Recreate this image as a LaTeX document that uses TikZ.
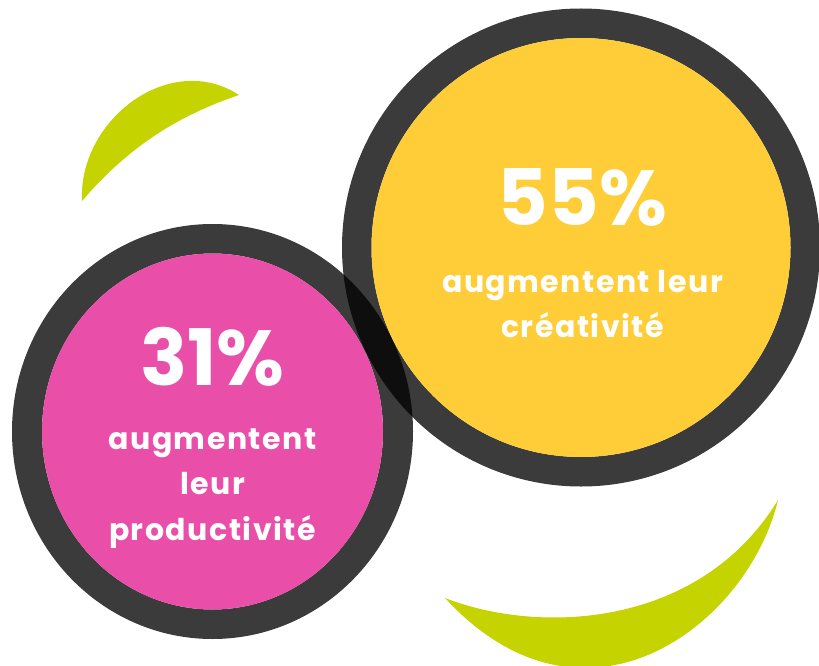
\documentclass[tikz,border=0pt]{standalone}
\usepackage{fontspec}
\setmainfont{Poppins}
\newfontfamily\spacedfont{Poppins}[LetterSpace=5]
\usetikzlibrary{positioning}

\definecolor{ringdark}{RGB}{0,0,0}
\definecolor{sunyellow}{RGB}{255,205,56}
\definecolor{hotpink}{RGB}{233,79,168}
\definecolor{limeleaf}{RGB}{197,211,0}

\begin{document}
\begin{tikzpicture}[x=1pt,y=-1pt,
  ring/.style={fill=ringdark,fill opacity=0.77,even odd rule},
  leaf/.style={fill=limeleaf},
  statnum/.style={text=white,anchor=base,inner sep=0pt,font=\fontsize{78}{78}\selectfont\bfseries},
  stattext/.style={text=white,anchor=base,inner sep=0pt,font=\fontsize{30}{30}\spacedfont\bfseries}]
  \useasboundingbox (0,0) rectangle (819,666);

  % leaves
  \fill[leaf] (82,201) .. controls (78,120) and (170,50) .. (239,95)
    .. controls (180,115) and (130,145) .. (82,201) -- cycle;
  \fill[leaf] (445,598) .. controls (540,635) and (700,628) .. (778,500)
    .. controls (748,625) and (585,750) .. (445,598) -- cycle;

  % pink circle
  \coordinate (pc) at (212.5,431.5);
  \fill[ring] (pc) circle[x radius=200.5pt,y radius=207.5pt]
    (pc) circle[x radius=170.5pt,y radius=178pt];
  \fill[hotpink] (pc) circle[x radius=170.5pt,y radius=178pt];

  % yellow circle
  \coordinate (yc) at (581,247.5);
  \fill[ring] (yc) circle[radius=239pt] (yc) circle[radius=209.5pt];
  \fill[sunyellow] (yc) circle[radius=209.5pt];

  \node[statnum] (num55) at (582.5,225) {55\%};
  \node[stattext] (txt55a) at (582.5,292) {augmentent leur};
  \node[stattext] (txt55b) at ([yshift=-45pt]txt55a.base) {créativité};

  \node[statnum] (num31) at (212.5,385) {31\%};
  \node[stattext] (txt31a) at (212.5,449) {augmentent};
  \node[stattext] (txt31b) at ([yshift=-45.5pt]txt31a.base) {leur};
  \node[stattext] (txt31c) at ([yshift=-45.5pt]txt31b.base) {productivité};

\end{tikzpicture}
\end{document}
